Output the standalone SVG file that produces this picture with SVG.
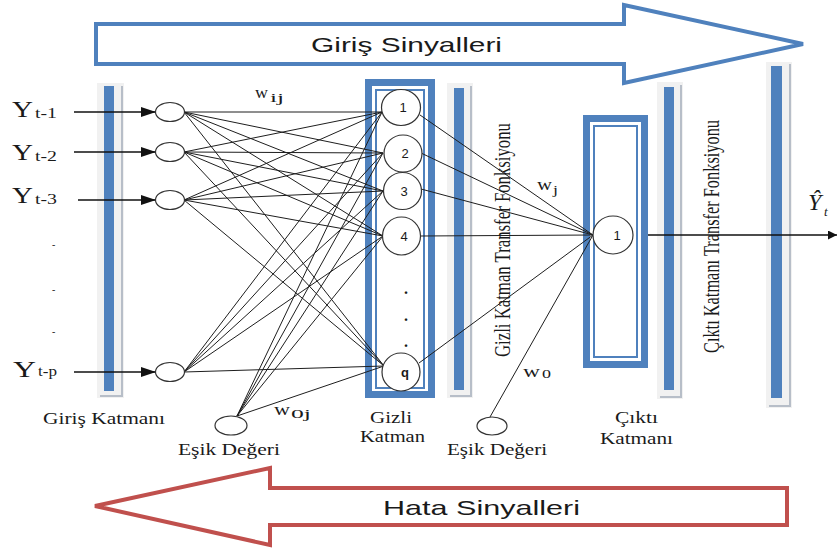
<svg xmlns="http://www.w3.org/2000/svg" width="837" height="550" viewBox="0 0 837 550">
  <defs>
    <style>
      .bar-bg { fill: #f1f1f1; }
      .bar-fg { fill: #4f81bd; }
      .bar-sh { fill: #b7bec8; }
      .box-outer { fill: none; stroke: #4f81bd; stroke-width: 7; }
      .box-inner { fill: none; stroke: #4f81bd; stroke-width: 2; }
      .edge { stroke: #1e1e1e; stroke-width: 1; fill: none; }
      .arrow-in { stroke: #111; stroke-width: 1.4; fill: none; }
      .node { fill: #fff; stroke: #333; stroke-width: 1.2; }
      .serif { font-family: "Liberation Serif", "Times New Roman", serif; fill: #1a1a1a; }
      .sans { font-family: "Liberation Sans", Arial, sans-serif; fill: #1a1a1a; }
      .num { font-family: "Liberation Sans", Arial, sans-serif; fill: #1a1a1a; font-size: 13px; text-anchor: middle; }
    </style>
    <marker id="tri" markerUnits="userSpaceOnUse" markerWidth="16" markerHeight="10" refX="15" refY="5" orient="auto">
      <path d="M0,0 L15,5 L0,10 z" fill="#111"/>
    </marker>
    <marker id="tri-out" markerUnits="userSpaceOnUse" markerWidth="10" markerHeight="10" refX="9" refY="4.5" orient="auto">
      <path d="M0,0 L9,4.5 L0,9 z" fill="#111"/>
    </marker>
  </defs>

  <rect width="837" height="550" fill="#fff"/>

  <!-- forward signal arrow -->
  <g id="giris-sinyalleri">
    <polygon points="96,24 624,24 624,5 803,44 624,83 624,64 96,64" fill="#fff" stroke="#4f81bd" stroke-width="4" stroke-linejoin="miter"/>
    <text class="sans" x="311" y="52" font-size="21" textLength="191" lengthAdjust="spacingAndGlyphs">Giriş Sinyalleri</text>
  </g>

  <!-- error signal arrow -->
  <g id="hata-sinyalleri">
    <polygon points="787,488 270,488 270,468 95,506 270,545 270,525 787,525" fill="#fff" stroke="#c0504d" stroke-width="4" stroke-linejoin="miter"/>
    <text class="sans" x="383" y="515" font-size="21" textLength="197" lengthAdjust="spacingAndGlyphs">Hata Sinyalleri</text>
  </g>

  <!-- layer bars -->
  <g id="bar-giris">
    <rect class="bar-bg" x="97" y="83" width="27" height="315"/>
    <rect class="bar-fg" x="104" y="86" width="10" height="305"/>
    <rect class="bar-sh" x="121" y="86" width="2" height="311"/>
    <rect class="bar-sh" x="100" y="395" width="23" height="2"/>
  </g>
  <g id="bar-gizli-transfer">
    <rect class="bar-bg" x="447" y="83" width="26" height="315"/>
    <rect class="bar-fg" x="454" y="88" width="10" height="302"/>
    <rect class="bar-sh" x="470" y="86" width="2" height="311"/>
    <rect class="bar-sh" x="450" y="395" width="22" height="2"/>
  </g>
  <g id="bar-cikti-transfer">
    <rect class="bar-bg" x="657" y="82" width="26" height="317"/>
    <rect class="bar-fg" x="664" y="87" width="10" height="303"/>
    <rect class="bar-sh" x="680" y="85" width="2" height="313"/>
    <rect class="bar-sh" x="660" y="396" width="22" height="2"/>
  </g>
  <g id="bar-son">
    <rect class="bar-bg" x="766" y="62" width="26" height="346"/>
    <rect class="bar-fg" x="771" y="66" width="11" height="332"/>
    <rect class="bar-sh" x="789" y="64" width="2" height="343"/>
    <rect class="bar-sh" x="769" y="405" width="22" height="2"/>
  </g>

  <!-- layer frames -->
  <g id="gizli-katman-cerceve">
    <rect class="box-outer" x="368.5" y="82.5" width="63" height="312"/>
    <rect class="box-inner" x="376" y="90" width="48" height="298"/>
  </g>
  <g id="cikti-katman-cerceve">
    <rect class="box-outer" x="586.5" y="118.5" width="58" height="246"/>
    <rect class="box-inner" x="594" y="126" width="43" height="231"/>
  </g>

  <!-- rotated transfer function captions -->
  <text class="serif" font-size="16" textLength="234" lengthAdjust="spacingAndGlyphs" transform="translate(510,357) rotate(-90) scale(1,1.4)">Gizli Katman Transfer Fonksiyonu</text>
  <text class="serif" font-size="16" textLength="233" lengthAdjust="spacingAndGlyphs" transform="translate(719,353) rotate(-90) scale(1,1.4)">Çıktı Katmanı Transfer Fonksiyonu</text>

  <!-- connectors -->
  <g id="connectors">
    <!-- inputs into input neurons -->
    <line class="arrow-in" x1="74" y1="112" x2="156" y2="112" marker-end="url(#tri)"/>
    <line class="arrow-in" x1="74" y1="152" x2="156" y2="152" marker-end="url(#tri)"/>
    <line class="arrow-in" x1="78" y1="200" x2="156" y2="200" marker-end="url(#tri)"/>
    <line class="arrow-in" x1="74" y1="372" x2="156" y2="372" marker-end="url(#tri)"/>

    <!-- input neuron 1 -> hidden -->
    <path class="edge" d="M184,112 L382,112 M184,112 L383,153 M184,112 L383,191 M184,112 L383,236 M184,112 L384,366"/>
    <!-- input neuron 2 -> hidden -->
    <path class="edge" d="M184,152 L382,112 M184,152 L383,153 M184,152 L383,191 M184,152 L383,236 M184,152 L384,366"/>
    <!-- input neuron 3 -> hidden -->
    <path class="edge" d="M184,200 L382,112 M184,200 L383,153 M184,200 L383,191 M184,200 L383,236 M184,200 L384,366"/>
    <!-- input neuron p -> hidden -->
    <path class="edge" d="M184,372 L382,112 M184,372 L383,153 M184,372 L383,191 M184,372 L383,236 M184,372 L384,366"/>
    <!-- hidden bias -> hidden -->
    <path class="edge" d="M237,416 L382,112 M237,416 L383,153 M237,416 L383,191 M237,416 L383,236 M237,416 L384,366"/>

    <!-- hidden -> output -->
    <path class="edge" d="M420,115 L593,235 M421,153 L593,235 M421,189 L593,235 M421,236 L593,235 M419,363 L593,235"/>
    <!-- output bias -> output -->
    <path class="edge" d="M490,417 L593,235"/>

    <!-- network output -->
    <line class="arrow-in" x1="648" y1="235" x2="837" y2="235" marker-end="url(#tri-out)"/>
  </g>

  <!-- input neurons -->
  <g id="giris-1"><ellipse class="node" cx="170" cy="112" rx="14.5" ry="9.5"/></g>
  <g id="giris-2"><ellipse class="node" cx="170" cy="152" rx="14.5" ry="9.5"/></g>
  <g id="giris-3"><ellipse class="node" cx="170" cy="200" rx="14.5" ry="9.5"/></g>
  <g id="giris-p"><ellipse class="node" cx="170" cy="372" rx="14.5" ry="9.5"/></g>

  <!-- bias neurons -->
  <g id="esik-gizli"><ellipse class="node" cx="231" cy="425.5" rx="16" ry="9.5"/></g>
  <g id="esik-cikti"><ellipse class="node" cx="492" cy="426" rx="15" ry="9"/></g>

  <!-- hidden neurons -->
  <g id="gizli-1"><ellipse class="node" cx="401" cy="107.5" rx="19.5" ry="18"/><text class="num" x="403" y="112">1</text></g>
  <g id="gizli-2"><ellipse class="node" cx="403" cy="153.5" rx="19" ry="18.5"/><text class="num" x="405" y="158">2</text></g>
  <g id="gizli-3"><ellipse class="node" cx="402.5" cy="191" rx="19" ry="18.5"/><text class="num" x="404" y="196">3</text></g>
  <g id="gizli-4"><ellipse class="node" cx="401.5" cy="236" rx="19" ry="19"/><text class="num" x="404" y="241">4</text></g>
  <g id="gizli-q"><ellipse class="node" cx="401" cy="372" rx="19" ry="19"/><text class="num" x="405" y="377" font-weight="bold">q</text></g>
  <g id="gizli-noktalar">
    <text class="serif" x="406" y="294" font-size="16" font-weight="bold" text-anchor="middle">.</text>
    <text class="serif" x="406" y="321" font-size="16" font-weight="bold" text-anchor="middle">.</text>
    <text class="serif" x="406" y="347" font-size="16" font-weight="bold" text-anchor="middle">.</text>
  </g>

  <!-- output neuron -->
  <g id="cikti-1"><ellipse class="node" cx="613" cy="235" rx="20" ry="19"/><text class="num" x="617" y="240" font-size="11">1</text></g>

  <!-- input labels -->
  <g id="etiket-girdiler">
    <text class="serif" x="12" y="117" font-size="24" textLength="21" lengthAdjust="spacingAndGlyphs">Y</text>
    <text class="serif" x="35" y="118" font-size="14" textLength="22" lengthAdjust="spacingAndGlyphs">t-1</text>
    <text class="serif" x="12" y="160" font-size="24" textLength="21" lengthAdjust="spacingAndGlyphs">Y</text>
    <text class="serif" x="35" y="161" font-size="14" textLength="22" lengthAdjust="spacingAndGlyphs">t-2</text>
    <text class="serif" x="12" y="203" font-size="24" textLength="21" lengthAdjust="spacingAndGlyphs">Y</text>
    <text class="serif" x="35" y="204" font-size="14" textLength="22" lengthAdjust="spacingAndGlyphs">t-3</text>
    <text class="serif" x="52" y="248" font-size="10">-</text>
    <text class="serif" x="52" y="293" font-size="10">-</text>
    <text class="serif" x="52" y="335" font-size="10">-</text>
    <text class="serif" x="13" y="377" font-size="24" textLength="23" lengthAdjust="spacingAndGlyphs">Y</text>
    <text class="serif" x="38" y="376" font-size="14" textLength="19" lengthAdjust="spacingAndGlyphs">t-p</text>
  </g>

  <!-- weight labels -->
  <g id="etiket-agirliklar">
    <text class="serif" x="255" y="98" font-size="17" textLength="13" lengthAdjust="spacingAndGlyphs">w</text>
    <text class="serif" x="270" y="102" font-size="12" textLength="14" lengthAdjust="spacingAndGlyphs">ij</text>
    <text class="serif" x="537" y="190" font-size="17" textLength="15" lengthAdjust="spacingAndGlyphs">w</text>
    <text class="serif" x="553" y="194" font-size="12" textLength="5" lengthAdjust="spacingAndGlyphs">j</text>
    <text class="serif" x="523" y="377" font-size="17" textLength="17" lengthAdjust="spacingAndGlyphs">w</text>
    <text class="serif" x="542" y="378" font-size="13" textLength="9" lengthAdjust="spacingAndGlyphs">0</text>
    <text class="serif" x="274" y="415" font-size="17" textLength="16" lengthAdjust="spacingAndGlyphs">w</text>
    <text class="serif" x="291" y="418" font-size="13" textLength="20" lengthAdjust="spacingAndGlyphs">0j</text>
  </g>

  <!-- output label -->
  <g id="etiket-cikti">
    <text class="serif" x="808" y="210" font-size="24" font-style="italic">Ŷ</text>
    <text class="serif" x="824" y="216" font-size="13" font-style="italic">t</text>
  </g>

  <!-- layer captions -->
  <g id="etiket-katmanlar">
    <text class="serif" x="43" y="424" font-size="16" textLength="122" lengthAdjust="spacingAndGlyphs">Giriş Katmanı</text>
    <text class="serif" x="178" y="455" font-size="16" textLength="102" lengthAdjust="spacingAndGlyphs">Eşik Değeri</text>
    <text class="serif" x="370" y="423" font-size="16" textLength="42" lengthAdjust="spacingAndGlyphs">Gizli</text>
    <text class="serif" x="360" y="442" font-size="16" textLength="65" lengthAdjust="spacingAndGlyphs">Katman</text>
    <text class="serif" x="447" y="455" font-size="16" textLength="100" lengthAdjust="spacingAndGlyphs">Eşik Değeri</text>
    <text class="serif" x="615" y="423" font-size="16" textLength="43" lengthAdjust="spacingAndGlyphs">Çıktı</text>
    <text class="serif" x="600" y="444" font-size="16" textLength="73" lengthAdjust="spacingAndGlyphs">Katmanı</text>
  </g>
</svg>
